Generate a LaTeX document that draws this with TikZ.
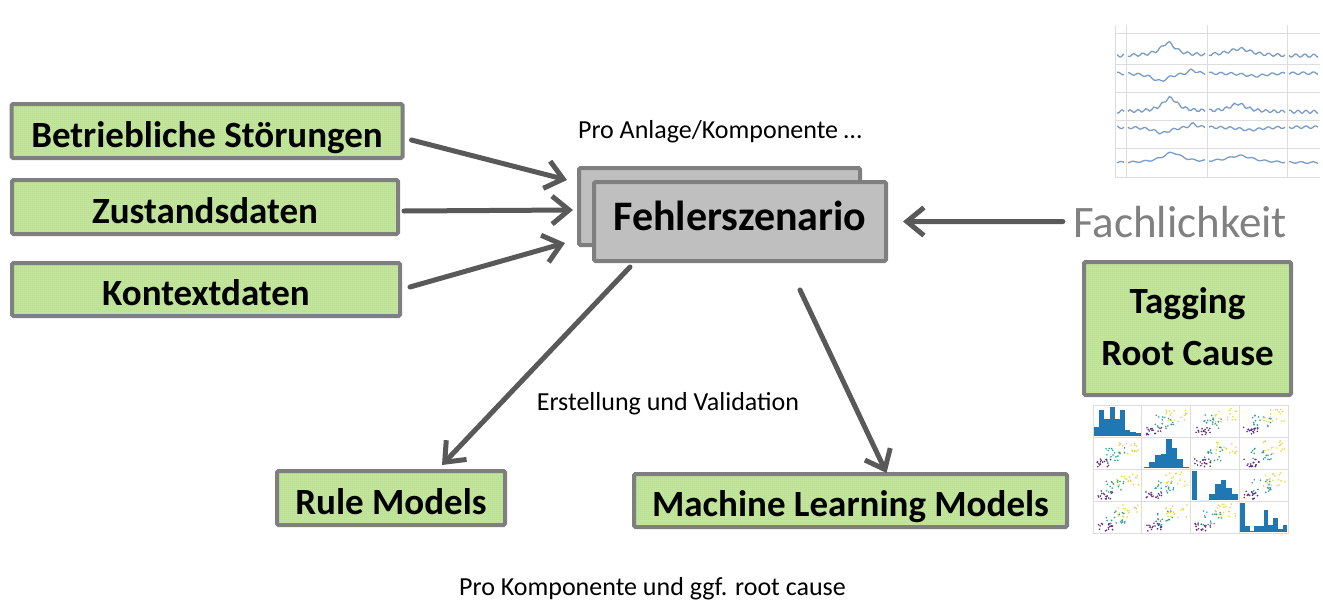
\documentclass[tikz,border=0pt]{standalone}
\usepackage{fontspec}
\setmainfont{Carlito}
\usetikzlibrary{positioning, arrows.meta, patterns.meta, calc}

\definecolor{boxgray}{HTML}{7F7F7F}
\definecolor{arrgray}{HTML}{595959}
\definecolor{fehlergray}{HTML}{BFBFBF}
\definecolor{greenbg}{HTML}{C6E6A3}
\definecolor{greenfg}{HTML}{A8D878}
\definecolor{fachgray}{HTML}{808080}
\definecolor{gridgray}{HTML}{DDDDDD}
\definecolor{plotblue}{HTML}{7A9CC8}
\definecolor{histblue}{HTML}{1F77B4}
\definecolor{vpurple}{HTML}{5B2A86}
\definecolor{vteal}{HTML}{2A9D8F}
\definecolor{vyellow}{HTML}{E8D83A}

\tikzdeclarepattern{
  name=checker,
  type=uncolored,
  bounding box={(0pt,0pt) and (2pt,2pt)},
  tile size={(2pt,2pt)},
  code={
    \fill (0pt,0pt) rectangle (1pt,1pt);
    \fill (1pt,1pt) rectangle (2pt,2pt);
  }
}

\tikzset{
  greenbox/.style={draw=boxgray, line width=4pt, rounded corners=1.5pt,
    preaction={fill=greenbg}, pattern=checker, pattern color=greenfg,
    font=\fontsize{37}{52}\selectfont\bfseries, inner sep=0pt, align=center,
    text height=32pt, text depth=0pt},
  graybox/.style={draw=boxgray, line width=4pt, rounded corners=1.5pt, fill=fehlergray,
    font=\fontsize{42}{46}\selectfont\bfseries, inner sep=0pt,
    text height=17pt, text depth=0pt},
  arr/.style={draw=arrgray, line width=5pt, line cap=round,
    -{Straight Barb[length=17pt, width=28pt]}},
  caption/.style={font=\fontsize{26}{28}\selectfont, inner sep=0pt, anchor=base},
}

\begin{document}
\begin{tikzpicture}[x=1pt, y=-1pt]
        \useasboundingbox (0,0) rectangle (1323,600);

        %coordinates
        \coordinate (plot)    at (1115,33);
        \coordinate (scatter) at (1093,405);

        %nodes
        \node[greenbox, minimum width=391pt, minimum height=54pt] (stoer) at (207,131) {Betriebliche Störungen};
        \node[greenbox, minimum width=386pt, minimum height=54pt] (zustand) at (205,207) {Zustandsdaten};
        \node[greenbox, minimum width=388pt, minimum height=53pt] (kontext) at (206,289.5) {Kontextdaten};

        \node[graybox, minimum width=281pt, minimum height=77pt] (fehlerB) at (719.5,206.5) {};
        \node[graybox, minimum width=292pt, minimum height=79pt] (fehlerA) at (740,221.5) {Fehlerszenario};

        \node[greenbox, minimum width=207pt, minimum height=133pt, text height=73pt] (tagging) at (1187.5,328.5) {Tagging\\Root Cause};

        \node[greenbox, minimum width=228pt, minimum height=54pt] (rule) at (391,498) {Rule Models};
        \node[greenbox, minimum width=433pt, minimum height=53pt] (ml) at (850.5,500.5) {Machine Learning Models};

        \node[caption] (anlage) at (720,138) {Pro Anlage/Komponente …};
        \node[caption] (valid) at (668,410) {Erstellung und Validation};
        \node[caption] (komp) at (652.5,595) {Pro Komponente und ggf. root cause};
        \node[caption, font=\fontsize{45}{48}\selectfont, text=fachgray] (fach) at (1180,237) {Fachlichkeit};

        %edges
        \draw[arr] ($(stoer.east) + (7,9)$) -- ($(fehlerB.west) + (-10,-26.5)$);
        \draw[arr] ($(zustand.east) + (4,4)$) -- ($(fehlerB.west) + (-4,3.5)$);
        \draw[arr] ($(kontext.east) + (8,-2.5)$) -- ($(fehlerB.west) + (-12,36.5)$);

        \draw[arr] ($(fach.west) + (-10,0)$) -- ($(fehlerA.east) + (15,0)$);

        \draw[arr] ($(fehlerA.south west) + (38,4)$) -- ($(rule.north) + (51,-4)$);
        \draw[arr] ($(fehlerA.south) + (60,27)$) -- ($(ml.north) + (36,1)$);

        %line chart
        \begin{scope}[shift={(plot)}, gridgray, line width=0.6pt]
            \foreach \y in {0,31,59,87,115,144}
                \draw (0,\y) -- (205,\y);
            \foreach \x in {0,11,92,172}
                \draw (\x,-8) -- (\x,144);
        \end{scope}
        \begin{scope}[plotblue, line width=1.3pt]
            \foreach \a/\b in {1117/1124,1128/1205,1209/1285,1289/1318} {
                \draw plot[domain=\a:\b, samples=40, smooth] (\x, {56 - 13/(1+((\x-1168)/9)^2) - 7/(1+((\x-1240)/14)^2) + 1.5*sin((\x-1100)*40)});
                \draw plot[domain=\a:\b, samples=40, smooth] (\x, {73 + 8/(1+((\x-1160)/10)^2) + 3/(1+((\x-1255)/12)^2) - 4/(1+((\x-1192)/4)^2) + 1.2*sin((\x-1100)*35)});
                \draw plot[domain=\a:\b, samples=40, smooth] (\x, {112 - 14/(1+((\x-1170)/9)^2) - 8/(1+((\x-1238)/10)^2) + 1.5*sin((\x-1100)*45)});
                \draw plot[domain=\a:\b, samples=40, smooth] (\x, {127 + 6/(1+((\x-1162)/10)^2) + 3/(1+((\x-1250)/12)^2) - 4/(1+((\x-1193)/4)^2) + 1.2*sin((\x-1100)*38)});
                \draw plot[domain=\a:\b, samples=40, smooth] (\x, {163 - 10/(1+((\x-1172)/12)^2) - 7/(1+((\x-1240)/16)^2) + 0.8*sin((\x-1100)*30)});
            }
        \end{scope}

        %scatter matrix
        \pgfmathsetseed{42}
        \begin{scope}[shift={(scatter)}]
            \foreach \i in {0,...,3}
                \foreach \j in {0,...,3} {
                    \draw[gridgray, line width=0.6pt] (\j*48.75,\i*32) rectangle ++(48.75,32);
                    \ifnum\i=\j\else
                        \foreach \k in {1,...,18} {
                            \fill[vpurple] ({\j*48.75 + 4 + 16*rnd}, {\i*32 + 22 + 8*rnd}) circle (0.9pt);
                            \fill[vteal] ({\j*48.75 + 12 + 20*rnd}, {\i*32 + 10 + 14*rnd}) circle (0.9pt);
                            \fill[vyellow] ({\j*48.75 + 24 + 22*rnd}, {\i*32 + 3 + 14*rnd}) circle (0.9pt);
                        }
                    \fi
                }
            \foreach \h [count=\k from 0] in {0.3,0.9,0.6,1.0,0.6,0.9,0.2,0.15,0.1}
                \fill[histblue] (1+\k*5.2,31) rectangle ++(5.2,-\h*29);
            \foreach \h [count=\k from 0] in {0.05,0.2,0.45,0.5,1.0,0.7,0.3,0.05}
                \fill[histblue] (48.75+2+\k*5.6,63) rectangle ++(5.6,-\h*29);
            \foreach \h [count=\k from 0] in {1.0,0.0,0.0,0.2,0.55,0.7,0.4,0.2}
                \fill[histblue] (97.5+1+\k*5.8,95) rectangle ++(5.8,-\h*29);
            \foreach \h [count=\k from 0] in {1.0,0.2,0.05,0.2,0.2,0.75,0.25,0.5,0.1,0.25}
                \fill[histblue] (146.25+1+\k*4.7,127) rectangle ++(4.7,-\h*29);
        \end{scope}
    \end{tikzpicture}
\end{document}
